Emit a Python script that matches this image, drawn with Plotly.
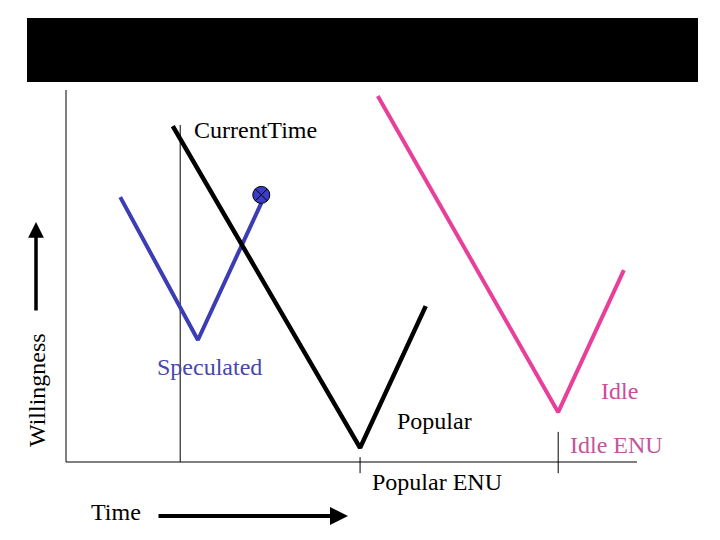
import plotly.graph_objects as go

# data (time units vs willingness units)
popular_t = [18.7, 51.5, 63.0]
popular_w = [90.3, 3.8, 41.9]
speculated_t = [9.5, 23.1, 34.2]
speculated_w = [71.2, 32.8, 69.6]
speculated_end_t = [34.2]
speculated_end_w = [71.8]
idle_t = [54.6, 86.2, 97.7]
idle_w = [98.4, 13.4, 51.6]
current_time = 20.0
current_time_top = 90.6
popular_enu = 51.5
idle_enu = 86.2
axis_t = [0, 100]
axis_w = [0, 100]

W, H = 720, 540
OFF = 8  # page margin the browser puts round the figure
# figure spans the whole page, so paper coords line up with pixels
T_PER_PX = 1 / 5.71
W_PER_PX = 1 / 3.72
x_range = [(OFF - 66) * T_PER_PX, (W + OFF - 66) * T_PER_PX]
y_range = [(462 - H - OFF) * W_PER_PX, (462 - OFF) * W_PER_PX]

FONT = "Liberation Serif"
BLUE = "#3c3cb4"
PINK = "#e8409a"


def px(x):
    return (x - OFF) / W


def py(y):
    return 1 - (y - OFF) / H


fig = go.Figure()

# axes
fig.add_trace(go.Scatter(x=[axis_t[0], axis_t[0]], y=[axis_w[0], axis_w[1]], mode="lines",
                         line=dict(color="black", width=1), showlegend=False))
fig.add_trace(go.Scatter(x=[axis_t[0], axis_t[1]], y=[axis_w[0], axis_w[0]], mode="lines",
                         line=dict(color="black", width=1), showlegend=False))
# current time marker line and ENU ticks
fig.add_trace(go.Scatter(x=[current_time, current_time], y=[0, current_time_top], mode="lines",
                         line=dict(color="black", width=1), showlegend=False))
fig.add_trace(go.Scatter(x=[popular_enu, popular_enu], y=[1.3, -3.0], mode="lines",
                         line=dict(color="black", width=1), showlegend=False))
fig.add_trace(go.Scatter(x=[idle_enu, idle_enu], y=[8.1, -3.0], mode="lines",
                         line=dict(color="black", width=1), showlegend=False))

# curves
fig.add_trace(go.Scatter(x=speculated_t, y=speculated_w, mode="lines",
                         line=dict(color=BLUE, width=4), showlegend=False))
fig.add_trace(go.Scatter(x=popular_t, y=popular_w, mode="lines",
                         line=dict(color="black", width=4.5), showlegend=False))
fig.add_trace(go.Scatter(x=idle_t, y=idle_w, mode="lines",
                         line=dict(color=PINK, width=4), showlegend=False))
fig.add_trace(go.Scatter(x=speculated_end_t, y=speculated_end_w, mode="markers",
                         marker=dict(symbol="circle-x", size=17, color="#3c3cc8",
                                     line=dict(color="black", width=1)),
                         showlegend=False))

# title bar
fig.add_shape(type="rect", xref="paper", yref="paper",
              x0=px(27), x1=px(698), y0=py(82), y1=py(18),
              fillcolor="black", line=dict(width=0))

labels = [
    ("CurrentTime", 192, 130, "left", "black", 0),
    ("Speculated", 209, 367, "center", "#4848a8", 0),
    ("Popular", 434, 421, "center", "black", 0),
    ("Popular ENU", 437, 482, "center", "black", 0),
    ("Idle", 619, 391, "center", "#d04a9a", 0),
    ("Idle ENU", 616, 445, "center", "#c0589a", 0),
    ("Time", 116, 512, "center", "black", 0),
    ("Willingness", 37, 390, "center", "black", -90),
]
for text, lx, ly, anchor, color, angle in labels:
    fig.add_annotation(x=px(lx), y=py(ly), xref="paper", yref="paper", text=text,
                       showarrow=False, xanchor=anchor, yanchor="middle", textangle=angle,
                       font=dict(family=FONT, size=24, color=color))

# direction arrows (tail offsets in pixels)
fig.add_annotation(x=px(36), y=py(222), xref="paper", yref="paper",
                   ax=0, ay=90, axref="pixel", ayref="pixel", text="", showarrow=True,
                   arrowhead=2, arrowsize=0.9, arrowwidth=3.5, arrowcolor="black")
fig.add_annotation(x=px(348), y=py(516), xref="paper", yref="paper",
                   ax=-191, ay=0, axref="pixel", ayref="pixel", text="", showarrow=True,
                   arrowhead=2, arrowsize=0.9, arrowwidth=4, arrowcolor="black")

fig.update_layout(
    width=W, height=H,
    margin=dict(l=0, r=0, t=0, b=0),
    plot_bgcolor="white", paper_bgcolor="white",
    xaxis=dict(range=x_range, visible=False, fixedrange=True),
    yaxis=dict(range=y_range, visible=False, fixedrange=True),
    showlegend=False,
)

fig.write_html("out.html")
